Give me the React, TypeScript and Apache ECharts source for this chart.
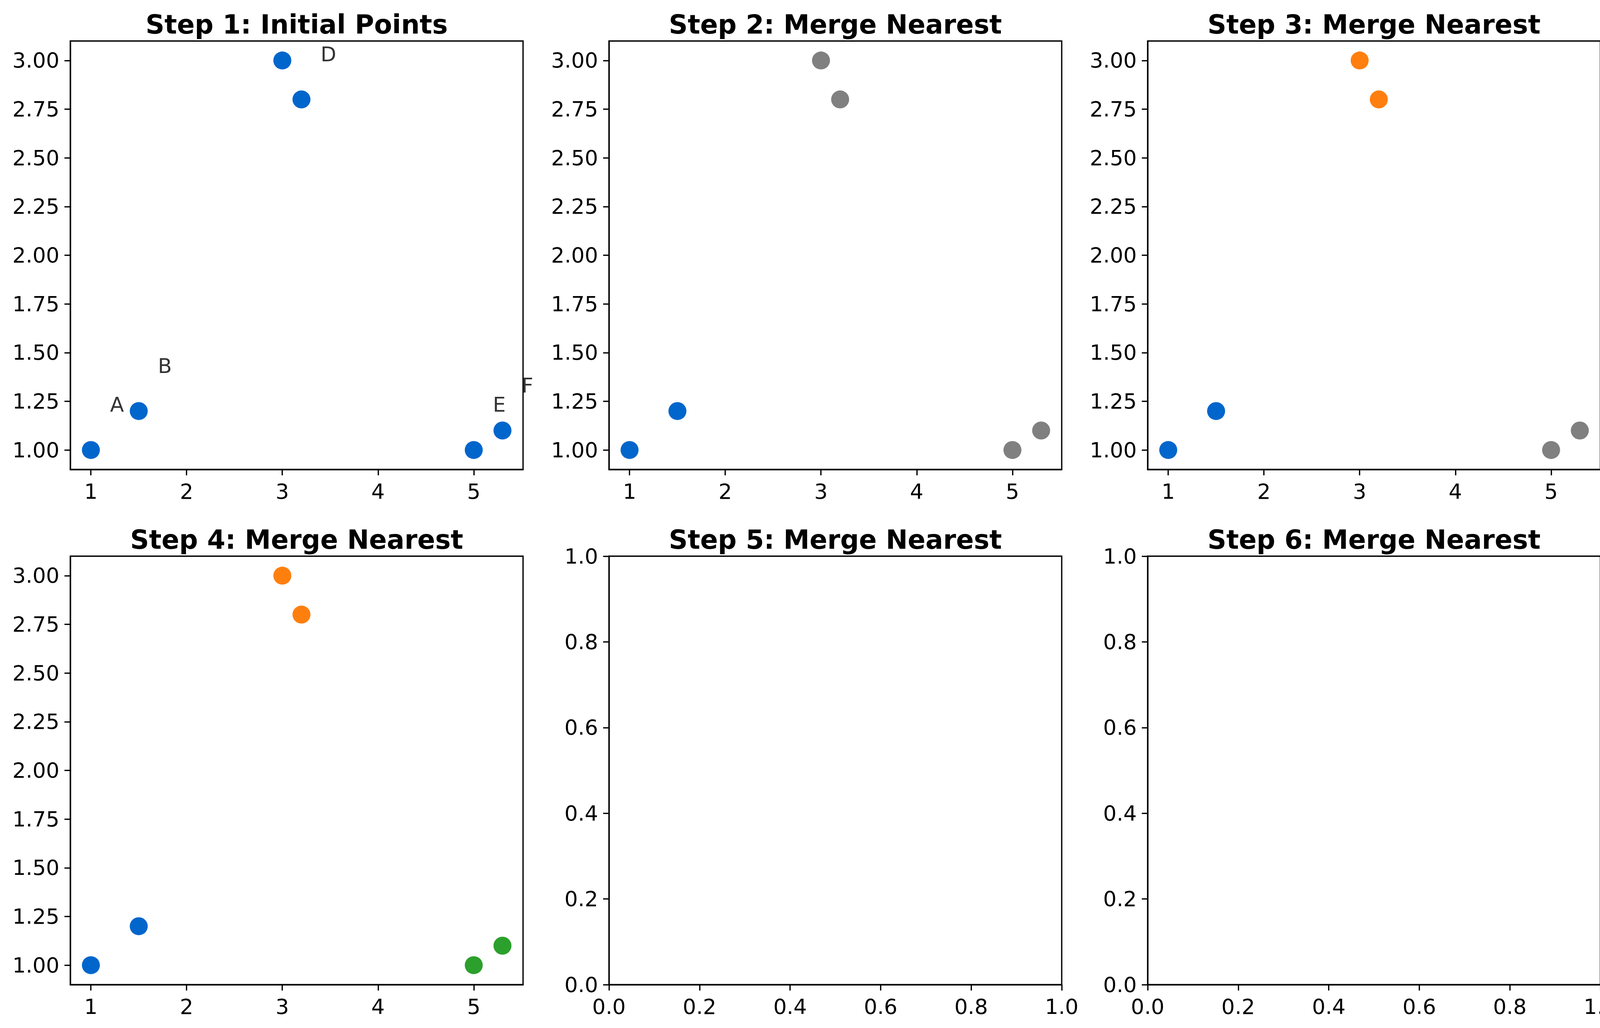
import React, { useEffect, useRef } from "react";
import * as echarts from "echarts";

// ---- data ----
const pointNames = ["A", "B", "C", "D", "E", "F"];
const pointX = [1, 1.5, 3, 3.2, 5, 5.3];
const pointY = [1, 1.2, 3, 2.8, 1, 1.1];

const BLUE = "#0066cc";
const GRAY = "#808080";
const ORANGE = "#ff7f0e";
const GREEN = "#2ca02c";

const stepTitles = [
  "Step 1: Initial Points",
  "Step 2: Merge Nearest",
  "Step 3: Merge Nearest",
  "Step 4: Merge Nearest",
  "Step 5: Merge Nearest",
  "Step 6: Merge Nearest",
];

// colours of the six points in each step (null = empty panel)
const stepColors: (string[] | null)[] = [
  [BLUE, BLUE, BLUE, BLUE, BLUE, BLUE],
  [BLUE, BLUE, GRAY, GRAY, GRAY, GRAY],
  [BLUE, BLUE, ORANGE, ORANGE, GRAY, GRAY],
  [BLUE, BLUE, ORANGE, ORANGE, GREEN, GREEN],
  null,
  null,
];

// label annotation offset (data units)
const labelDX = 0.2;
const labelDY = 0.2;

// axis limits and ticks
const dataXMin = 0.785;
const dataXMax = 5.515;
const dataYMin = 0.9;
const dataYMax = 3.1;
const dataXTicks = [1, 2, 3, 4, 5];
const dataYTicks = [1.0, 1.25, 1.5, 1.75, 2.0, 2.25, 2.5, 2.75, 3.0];
const unitTicks = [0, 0.2, 0.4, 0.6, 0.8, 1.0];

// ---- layout ----
const W = 4168;
const H = 2632;
const FONT = "DejaVu Sans";
const colLefts = [180, 1559, 2938];
const rowTops = [105, 1424];
const gridW = 1159;
const gridH = 1097;

function makeAxis(
  i: number,
  min: number,
  max: number,
  ticks: number[],
  decimals: number
) {
  return {
    type: "value",
    gridIndex: i,
    min,
    max,
    axisLine: { show: true, onZero: false, lineStyle: { color: "#000", width: 3.3 } },
    axisTick: {
      show: true,
      length: 15,
      lineStyle: { color: "#000", width: 3.3 },
      customValues: ticks,
    },
    axisLabel: {
      show: true,
      margin: 28,
      color: "#000",
      fontSize: 54,
      lineHeight: 56,
      fontFamily: FONT,
      customValues: ticks,
      formatter: (v: number) => Number(v).toFixed(decimals),
    },
    splitLine: { show: false },
    minorTick: { show: false },
  };
}

export default function App() {
  const ref = useRef<HTMLDivElement>(null);

  useEffect(() => {
    document.documentElement.style.overflow = "hidden";
    document.body.style.overflow = "hidden";
    document.body.style.margin = "0";
    if (!ref.current) return;
    const chart = echarts.init(ref.current, null, { renderer: "svg", width: W, height: H });

    const grids: any[] = [];
    const xAxes: any[] = [];
    const yAxes: any[] = [];
    const series: any[] = [];
    const graphics: any[] = [];

    for (let i = 0; i < 6; i++) {
      const col = i % 3;
      const row = Math.floor(i / 3);
      const left = colLefts[col];
      const top = rowTops[row];
      grids.push({
        left,
        top,
        width: gridW,
        height: gridH,
        show: true,
        borderColor: "#000",
        borderWidth: 3.3,
        backgroundColor: "#fff",
        containLabel: false,
      });
      const colors = stepColors[i];
      if (colors) {
        xAxes.push(makeAxis(i, dataXMin, dataXMax, dataXTicks, 0));
        yAxes.push(makeAxis(i, dataYMin, dataYMax, dataYTicks, 2));
        series.push({
          type: "scatter",
          xAxisIndex: i,
          yAxisIndex: i,
          symbol: "circle",
          symbolSize: 46,
          data: pointX.map((x, k) => ({
            value: [x, pointY[k]],
            itemStyle: { color: colors[k], opacity: 1 },
          })),
          z: 3,
        });
        if (i === 0) {
          const labelData = pointX
            .map((x, k) => ({ value: [x + labelDX, pointY[k] + labelDY], name: pointNames[k] }))
            .filter(
              (d) =>
                d.value[0] >= dataXMin &&
                d.value[0] <= dataXMax &&
                d.value[1] >= dataYMin &&
                d.value[1] <= dataYMax
            );
          series.push({
            type: "scatter",
            xAxisIndex: i,
            yAxisIndex: i,
            symbolSize: 0,
            clip: false,
            data: labelData,
            label: {
              show: true,
              position: [0, 0],
              align: "left",
              verticalAlign: "middle",
              offset: [0, -16],
              formatter: (p: any) => p.name,
              color: "#000",
              fontSize: 52,
              fontFamily: FONT,
            },
            z: 4,
          });
        }
      } else {
        xAxes.push(makeAxis(i, 0, 1, unitTicks, 1));
        yAxes.push(makeAxis(i, 0, 1, unitTicks, 1));
        series.push({
          type: "scatter",
          xAxisIndex: i,
          yAxisIndex: i,
          data: [],
        });
      }
      graphics.push({
        type: "text",
        x: left + gridW / 2,
        y: top - 42,
        style: {
          text: stepTitles[i],
          font: `bold 67px "${FONT}"`,
          fill: "#000",
          textAlign: "center",
          textVerticalAlign: "middle",
        },
      });
    }

    chart.setOption({
      animation: false,
      backgroundColor: "#fff",
      grid: grids,
      xAxis: xAxes,
      yAxis: yAxes,
      series,
      graphic: graphics,
    });

    return () => chart.dispose();
  }, []);

  return (
    <div
      ref={ref}
      style={{ position: "absolute", left: 0, top: 0, width: W, height: H, background: "#fff" }}
    />
  );
}
